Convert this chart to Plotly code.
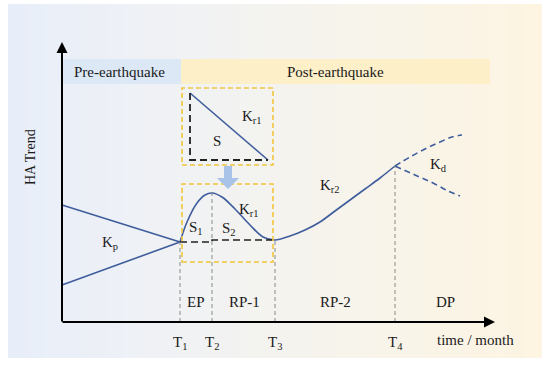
import numpy as np
import plotly.graph_objects as go

# ---- data (conceptual units: time in months, HA trend index) ----
T_names = ["T<sub>1</sub>", "T<sub>2</sub>", "T<sub>3</sub>", "T<sub>4</sub>"]
T_vals = [11.8, 15.0, 21.3, 33.3]

kp_t = [0.0, 11.8]
kp_upper = [11.7, 8.0]
kp_lower = [3.7, 8.0]

curve_t = [11.8, 12.5, 13.5, 14.3, 15.0, 16.0, 17.3, 18.8, 20.1, 21.3,
           22.8, 24.3, 25.8, 27.3, 28.8, 30.3, 31.8, 33.3]
curve_v = [8.0, 10.0, 11.9, 12.7, 12.9, 12.5, 11.3, 9.7, 8.5, 8.2,
           8.6, 9.2, 10.0, 11.1, 12.2, 13.3, 14.4, 15.6]

up_t = [33.3, 34.8, 36.3, 37.8, 39.0, 40.0]
up_v = [15.6, 16.5, 17.3, 18.0, 18.5, 18.7]
down_t = [33.3, 35.3, 37.1, 38.6, 39.8]
down_v = [15.6, 14.7, 13.9, 13.1, 12.6]

base_t = [11.8, 15.0, 15.0, 21.3]
base_v = [8.0, 8.0, 8.2, 8.2]

tri_t = [12.8, 20.6]
tri_v = [22.9, 16.2]

periods = ["EP", "RP-1", "RP-2", "DP"]
period_t = [13.4, 18.2, 27.3, 38.3]

FONT = "Liberation Serif, Times New Roman, DejaVu Serif, serif"
BLUE = "#3f5d9c"
GOLD = "#f0c63c"
GRAY = "#8a8a8a"

X0, X1 = -6.2, 48.8
Y0, Y1 = -4.3, 32.2

fig = go.Figure()

# gradient background
nb = 60
edges = np.linspace(-5.4, 48.0, nb + 1)
z = [list(np.linspace(0, 1, nb))]
fig.add_trace(go.Heatmap(
    x=edges, y=[-3.6, 31.8], z=z, showscale=False, hoverinfo="skip",
    colorscale=[[0, "#e8eef9"], [0.35, "#f1f2f3"], [0.7, "#f8f4ea"], [1, "#fdf4e2"]]))

line_blue = dict(color=BLUE, width=1.6)
fig.add_trace(go.Scatter(x=kp_t, y=kp_upper, mode="lines", line=line_blue))
fig.add_trace(go.Scatter(x=kp_t, y=kp_lower, mode="lines", line=line_blue))
fig.add_trace(go.Scatter(x=curve_t, y=curve_v, mode="lines",
                         line=dict(color=BLUE, width=1.6, shape="spline", smoothing=1.0)))
fig.add_trace(go.Scatter(x=up_t, y=up_v, mode="lines",
                         line=dict(color=BLUE, width=1.6, dash="6px,4px", shape="spline")))
fig.add_trace(go.Scatter(x=down_t, y=down_v, mode="lines",
                         line=dict(color=BLUE, width=1.6, dash="6px,4px", shape="spline")))
fig.add_trace(go.Scatter(x=base_t, y=base_v, mode="lines",
                         line=dict(color="#222222", width=1.6, dash="7px,4px")))

# triangle in upper box
fig.add_trace(go.Scatter(x=[tri_t[0], tri_t[1]], y=[tri_v[0], tri_v[1]], mode="lines", line=line_blue))
fig.add_trace(go.Scatter(x=[tri_t[0], tri_t[0], tri_t[1]], y=[tri_v[0], tri_v[1], tri_v[1]], mode="lines",
                         line=dict(color="#222222", width=1.8, dash="7px,4px")))

# vertical gray dashed lines at T
t_top = [8.0, 12.9, 8.2, 15.6]
for t, top in zip(T_vals, t_top):
    fig.add_trace(go.Scatter(x=[t, t], y=[0, top], mode="lines",
                             line=dict(color=GRAY, width=1, dash="4px,3px")))

shapes = []
# period bands
shapes.append(dict(type="rect", x0=0, x1=11.9, y0=23.8, y1=26.3, fillcolor="#dce8f6",
                   line=dict(width=0), layer="above"))
shapes.append(dict(type="rect", x0=11.9, x1=42.8, y0=23.8, y1=26.3, fillcolor="#fdefc8",
                   line=dict(width=0), layer="above"))
# yellow dashed boxes
for yb0, yb1 in [(15.7, 23.4), (6.0, 13.8)]:
    shapes.append(dict(type="rect", x0=12.0, x1=21.1, y0=yb0, y1=yb1,
                       line=dict(color=GOLD, width=1.6, dash="5px,3px"), layer="above"))
# block arrow
shapes.append(dict(type="path",
                   path="M 16.2 15.6 L 17.0 15.6 L 17.0 14.4 L 17.7 14.4 L 16.6 13.3 L 15.5 14.4 L 16.2 14.4 Z",
                   fillcolor="#a9c3e8", line=dict(width=0), layer="above"))
fig.update_layout(shapes=shapes)

ann = []
def txt(x, y, s, size=15, **kw):
    ann.append(dict(x=x, y=y, text=s, showarrow=False, xref="x", yref="y",
                    font=dict(family=FONT, size=size, color="#1a1a1a"), **kw))

txt(5.7, 25.05, "Pre-earthquake", 15)
txt(27.3, 25.05, "Post-earthquake", 15)
txt(19.0, 20.5, "K<sub>r1</sub>")
txt(15.5, 18.1, "S")
txt(18.7, 11.2, "K<sub>r1</sub>")
txt(13.4, 9.4, "S<sub>1</sub>")
txt(16.7, 9.3, "S<sub>2</sub>")
txt(4.8, 7.9, "K<sub>p</sub>")
txt(26.8, 13.6, "K<sub>r2</sub>")
txt(37.6, 15.7, "K<sub>d</sub>")
for p, t in zip(periods, period_t):
    txt(t, 2.0, p)
for n, t in zip(T_names, T_vals):
    txt(t, -2.1, n)
txt(41.3, -1.8, "time / month", 15)
txt(-3.2, 16.5, "HA Trend", 14, textangle=-90)

# axes arrows
ann.append(dict(x=0, y=28.0, ax=0, ay=-0.1, axref="x", ayref="y", xref="x", yref="y",
                showarrow=True, arrowhead=2, arrowsize=1.1, arrowwidth=2, arrowcolor="#000", text=""))
ann.append(dict(x=43.3, y=0, ax=-0.1, ay=0, axref="x", ayref="y", xref="x", yref="y",
                showarrow=True, arrowhead=2, arrowsize=1.1, arrowwidth=2, arrowcolor="#000", text=""))
fig.update_layout(annotations=ann)

fig.update_layout(
    width=550, height=365, margin=dict(l=0, r=0, t=0, b=0),
    paper_bgcolor="white", plot_bgcolor="white", showlegend=False,
    font=dict(family=FONT, size=15, color="#1a1a1a"),
    xaxis=dict(range=[X0, X1], visible=False, fixedrange=True),
    yaxis=dict(range=[Y0, Y1], visible=False, fixedrange=True),
)
fig.write_html("out.html", config={"displayModeBar": False},
               post_script="document.body.style.margin='0';document.body.style.padding='0';")
